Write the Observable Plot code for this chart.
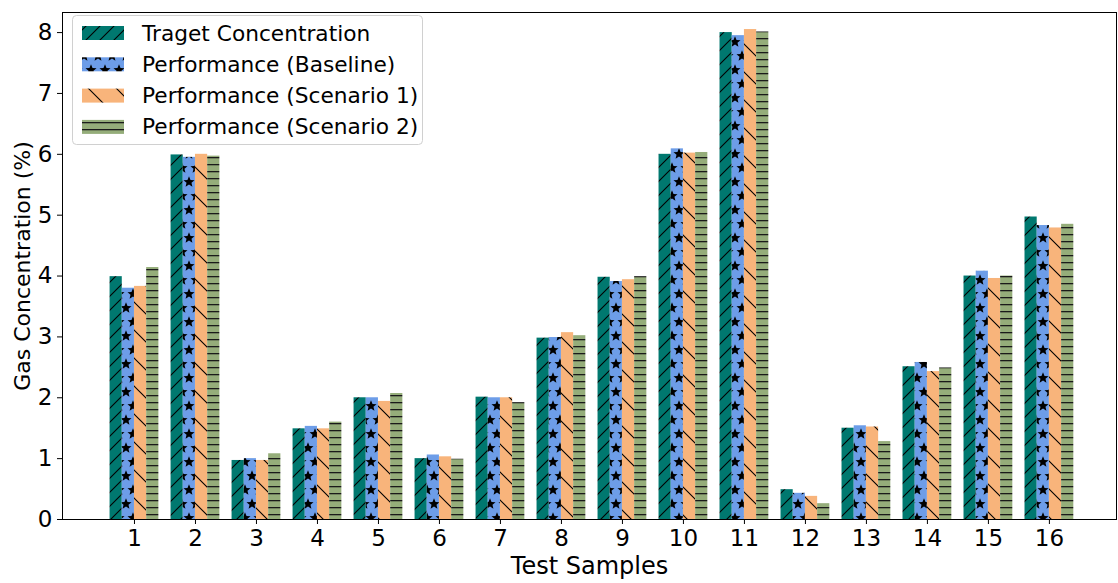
<!DOCTYPE html>
<html>
<head>
<meta charset="utf-8">
<script src="https://cdn.jsdelivr.net/npm/d3@7"></script>
<script src="https://cdn.jsdelivr.net/npm/@observablehq/plot@0.6"></script>
<style>
  html, body { margin: 0; padding: 0; background: #fff; }
  #chart { width: 1118px; height: 583px; }
</style>
</head>
<body>
<div id="chart"></div>
<script>
// ---- data ----
const samples   = [1, 2, 3, 4, 5, 6, 7, 8, 9, 10, 11, 12, 13, 14, 15, 16];
const target    = [3.99, 5.99, 0.97, 1.49, 2.00, 1.00, 2.01, 2.98, 3.98, 6.00, 8.00, 0.49, 1.50, 2.51, 4.00, 4.97];
const baseline  = [3.80, 5.95, 1.00, 1.53, 2.00, 1.06, 2.00, 2.99, 3.91, 6.09, 7.95, 0.43, 1.54, 2.58, 4.08, 4.83];
const scenario1 = [3.83, 6.00, 0.97, 1.49, 1.94, 1.03, 2.00, 3.07, 3.94, 6.02, 8.05, 0.38, 1.52, 2.43, 3.96, 4.79];
const scenario2 = [4.14, 5.97, 1.08, 1.60, 2.07, 0.99, 1.92, 3.02, 3.99, 6.03, 8.01, 0.26, 1.28, 2.49, 4.00, 4.85];
const seriesNames = ["Traget Concentration", "Performance (Baseline)", "Performance (Scenario 1)", "Performance (Scenario 2)"];
const yTicks = [0, 1, 2, 3, 4, 5, 6, 7, 8];

const seriesValues = [target, baseline, scenario1, scenario2];
const colors = ["#00786f", "#6d9de8", "#f8b47b", "#95ad7a"];
const patIds = ["pat-target", "pat-base", "pat-s1", "pat-s2"];
const barW = 0.2;
const offsets = [-0.3, -0.1, 0.1, 0.3];

const table = [];
seriesValues.forEach((vals, si) => {
  samples.forEach((s, i) => table.push({sample: s, series: seriesNames[si], si, value: vals[i]}));
});

const font = "DejaVu Sans, sans-serif";

const barMarks = seriesNames.map((name, si) =>
  Plot.rectY(table.filter(d => d.si === si), {
    x1: d => d.sample + offsets[si] - barW / 2,
    x2: d => d.sample + offsets[si] + barW / 2,
    y1: 0,
    y2: "value",
    fill: `url(#${patIds[si]})`,
    insetLeft: 0, insetRight: 0
  })
);

const chart = Plot.plot({
  width: 1118,
  height: 583,
  marginLeft: 62,
  marginRight: 2,
  marginTop: 12,
  marginBottom: 64,
  style: {fontFamily: font, fontSize: "23px", color: "#000", background: "#fff", overflow: "visible"},
  x: {domain: [-0.18, 17.1]},
  y: {domain: [0, 8.33]},
  marks: [
    ...barMarks,
    Plot.frame({stroke: "#000", strokeWidth: 1}),
    Plot.axisX({ticks: samples, tickFormat: d => String(d), tickSize: 5, tickPadding: 5, label: null, fontSize: 23}),
    Plot.axisY({ticks: yTicks, tickFormat: d => String(d), tickSize: 5, tickPadding: 5, label: null, fontSize: 23}),
    Plot.text(["Test Samples"], {frameAnchor: "bottom", dy: 47, fontSize: 24, lineAnchor: "middle", textAnchor: "middle", fill: "#000"}),
    Plot.text(["Gas Concentration (%)"], {frameAnchor: "left", dx: -40, rotate: -90, fontSize: 22, lineAnchor: "middle", textAnchor: "middle", fill: "#000"})
  ]
});

document.getElementById("chart").appendChild(chart);

// ---- hatch patterns ----
const svg = d3.select(chart);
const defs = svg.insert("defs", ":first-child");

// "/" diagonal on teal
{
  const p = defs.append("pattern").attr("id", patIds[0]).attr("patternUnits", "userSpaceOnUse")
    .attr("width", 14).attr("height", 14);
  p.append("rect").attr("width", 14).attr("height", 14).attr("fill", colors[0]);
  p.append("path").attr("d", "M-1,1 L1,-1 M0,14 L14,0 M13,15 L15,13")
    .attr("stroke", "#000").attr("stroke-width", 1.1);
}
// stars on blue
{
  const p = defs.append("pattern").attr("id", patIds[1]).attr("patternUnits", "userSpaceOnUse")
    .attr("width", 14).attr("height", 28);
  p.append("rect").attr("width", 14).attr("height", 28).attr("fill", colors[1]);
  const R = 5.8, r = R * 0.45;
  const star = (cx, cy) => {
    const pts = [];
    for (let k = 0; k < 10; k++) {
      const a = -Math.PI / 2 + k * Math.PI / 5;
      const rr = k % 2 === 0 ? R : r;
      pts.push([cx + rr * Math.cos(a), cy + rr * Math.sin(a)]);
    }
    return "M" + pts.map(q => q[0].toFixed(2) + "," + q[1].toFixed(2)).join("L") + "Z";
  };
  const centers = [[0, 0], [14, 0], [0, 28], [14, 28], [7, 14]];
  p.append("path").attr("d", centers.map(c => star(c[0], c[1])).join(" ")).attr("fill", "#000");
}
// "\" sparse on orange
{
  const p = defs.append("pattern").attr("id", patIds[2]).attr("patternUnits", "userSpaceOnUse")
    .attr("width", 28).attr("height", 28);
  p.append("rect").attr("width", 28).attr("height", 28).attr("fill", colors[2]);
  p.append("path").attr("d", "M0,0 L28,28 M-1,27 L1,29 M27,-1 L29,1")
    .attr("stroke", "#000").attr("stroke-width", 1.1);
}
// horizontal lines on green
{
  const p = defs.append("pattern").attr("id", patIds[3]).attr("patternUnits", "userSpaceOnUse")
    .attr("width", 7).attr("height", 7);
  p.append("rect").attr("width", 7).attr("height", 7).attr("fill", colors[3]);
  p.append("rect").attr("y", 3).attr("width", 7).attr("height", 1.3).attr("fill", "#1a1a1a");
}

// ---- legend (inside plot, top-left) ----
const lg = svg.append("g").attr("class", "legend").attr("font-family", font).attr("text-anchor", "start");
lg.append("rect").attr("x", 72.5).attr("y", 15.5).attr("width", 350).attr("height", 129)
  .attr("rx", 4).attr("ry", 4).attr("fill", "#fff").attr("fill-opacity", 0.85)
  .attr("stroke", "#d0d0d0").attr("stroke-width", 1);
seriesNames.forEach((name, si) => {
  const cy = 33 + si * 31.3;
  lg.append("rect").attr("x", 82).attr("y", cy - 7).attr("width", 42).attr("height", 14)
    .attr("fill", `url(#${patIds[si]})`);
  lg.append("text").attr("x", 142).attr("y", cy).attr("dy", "0.35em").attr("text-anchor", "start")
    .attr("font-size", 21.7).attr("fill", "#000").text(name);
});
</script>
</body>
</html>
